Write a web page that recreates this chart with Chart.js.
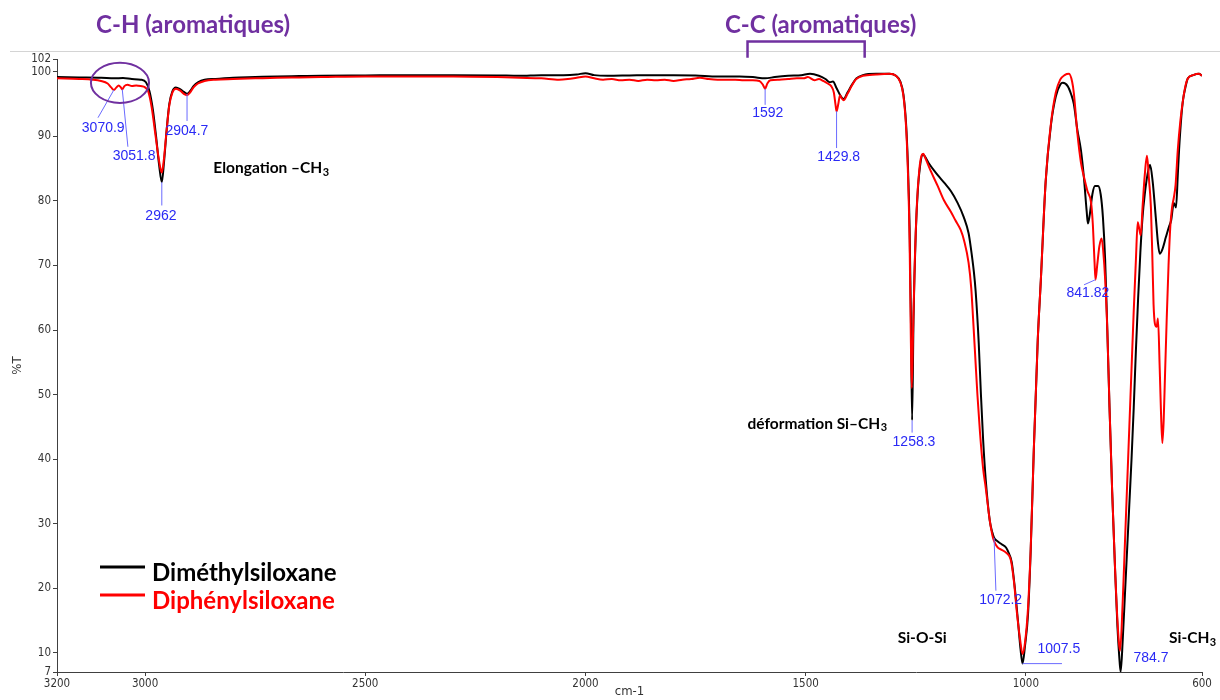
<!DOCTYPE html>
<html lang="fr">
<head>
<meta charset="utf-8">
<title>Spectres IR – siloxanes</title>
<script src="https://cdn.jsdelivr.net/npm/chart.js@4.4.1/dist/chart.umd.min.js"></script>
<style>
  html, body { margin: 0; padding: 0; background: #fff; }
  #wrap { width: 1220px; height: 700px; }
</style>
</head>
<body>
<div id="wrap"><canvas id="spectrum" width="1220" height="700"></canvas></div>
<script>
// IR spectra (%T vs wavenumber) of the two siloxanes, with the band assignments.

const wnTicks = [3200, 3000, 2500, 2000, 1500, 1000, 600];
const tTicks = [7, 10, 20, 30, 40, 50, 60, 70, 80, 90, 100, 102];

// [wavenumber cm-1, %T]
const dimethylPoints = [
  [3200, 99.2], [3150, 99.15], [3100, 99.1], [3070, 99.0], [3050, 99.05], [3030, 98.9], [3010, 98.8],
  [2998, 98.4], [2990, 97.0], [2982, 94.0], [2975, 90.0], [2968, 85.5], [2962, 82.9], [2957, 86.0],
  [2951, 91.0], [2945, 95.0], [2938, 97.0], [2930, 97.6], [2920, 97.3], [2912, 96.9], [2904.7, 96.6],
  [2898, 97.0], [2890, 97.8], [2880, 98.4], [2865, 98.8], [2840, 98.9], [2800, 99.1], [2750, 99.2],
  [2700, 99.3], [2650, 99.35], [2600, 99.4], [2500, 99.45], [2400, 99.5], [2300, 99.5], [2200, 99.45],
  [2150, 99.4], [2100, 99.5], [2050, 99.5], [2020, 99.6], [2000, 99.8], [1980, 99.5], [1950, 99.4],
  [1900, 99.45], [1850, 99.5], [1800, 99.5], [1750, 99.45], [1700, 99.3], [1650, 99.3], [1620, 99.2],
  [1592, 99.0], [1570, 99.2], [1540, 99.4], [1510, 99.5], [1490, 99.7], [1470, 99.4], [1455, 98.9],
  [1445, 98.4], [1438, 98.5], [1430, 97.5], [1420, 96.2], [1414, 95.8], [1405, 96.8], [1395, 98.0],
  [1385, 99.0], [1370, 99.5], [1340, 99.7], [1310, 99.7], [1295, 99.4], [1285, 98.5], [1278, 96.5],
  [1272, 92.0], [1268, 86.0], [1264, 76.0], [1261, 62.0], [1258.3, 46.0], [1255, 62.0], [1250, 75.0],
  [1245, 82.0], [1240, 85.5], [1235, 87.2], [1230, 87.0], [1220, 85.8], [1200, 84.0], [1185, 82.8],
  [1170, 81.5], [1155, 79.7], [1141, 77.5], [1130, 75.0], [1125, 72.8], [1118, 69.0], [1114, 66.0],
  [1107, 58.0], [1102, 50.0], [1097, 43.0], [1091, 36.7], [1082, 30.5], [1076, 28.6], [1072.2, 27.8],
  [1065, 27.3], [1055, 26.8], [1045, 26.3], [1038, 25.3], [1032, 24.0], [1025, 20.0], [1018, 15.0],
  [1012, 10.5], [1007.5, 8.3], [1002, 11.0], [995, 16.0], [989, 25.8], [982, 41.3], [973, 58.4],
  [966, 67.7], [955, 83.0], [943, 91.8], [932, 96.2], [922, 98.0], [916, 98.3], [905, 97.8],
  [897, 96.5], [891, 95.0], [883, 91.0], [875, 87.9], [868, 83.5], [862, 78.5], [859, 76.5],
  [855, 77.8], [849, 81.0], [843, 82.3], [836, 82.3], [830, 81.0], [825, 77.5], [820, 71.0],
  [815, 60.0], [810, 48.0], [804, 35.0], [798, 24.0], [792, 14.0], [788, 9.5], [784.7, 7.0],
  [780, 12.0], [775, 19.0], [770, 26.0], [765, 33.0], [760, 40.0], [755, 48.0], [750, 57.0],
  [745, 65.0], [740, 72.0], [735, 77.5], [730, 81.0], [724, 84.0], [718, 85.6], [712, 83.0],
  [705, 77.5], [700, 73.5], [696, 71.8], [690, 72.5], [682, 74.4], [675, 76.0], [670, 77.0],
  [664, 79.7], [659, 79.0], [655, 84.0], [652, 88.0], [647, 93.0], [643, 95.7], [637, 97.8],
  [632, 99.0], [620, 99.5], [607, 99.7], [600, 99.4]
];

const diphenylPoints = [
  [3200, 99.0], [3150, 98.9], [3120, 98.8], [3100, 98.6], [3085, 98.2], [3077, 97.6], [3070.9, 97.2],
  [3065, 97.6], [3060, 97.9], [3055, 97.6], [3051.8, 97.3], [3047, 97.8], [3040, 98.0], [3030, 97.8],
  [3020, 97.9], [3010, 97.8], [3000, 97.6], [2993, 97.0], [2985, 94.5], [2977, 90.5], [2970, 87.0],
  [2965, 85.0], [2962, 84.4], [2958, 86.0], [2951, 91.0], [2945, 94.8], [2938, 96.8], [2930, 97.4],
  [2920, 97.1], [2912, 96.6], [2904.7, 96.4], [2898, 96.8], [2890, 97.6], [2880, 98.2], [2865, 98.6],
  [2840, 98.8], [2800, 98.9], [2750, 99.0], [2700, 99.1], [2650, 99.15], [2600, 99.2], [2500, 99.3],
  [2400, 99.3], [2300, 99.3], [2200, 99.2], [2150, 99.1], [2100, 99.0], [2060, 98.8], [2040, 98.9],
  [2020, 99.1], [2000, 99.3], [1980, 99.0], [1960, 98.8], [1940, 98.9], [1920, 98.7], [1900, 98.8],
  [1880, 98.6], [1860, 98.8], [1840, 98.7], [1820, 98.8], [1800, 98.6], [1780, 98.8], [1760, 98.9],
  [1740, 99.1], [1720, 98.9], [1700, 98.8], [1680, 98.8], [1660, 98.8], [1640, 98.7], [1620, 98.7],
  [1605, 98.6], [1597, 98.0], [1592, 97.4], [1587, 98.2], [1580, 98.7], [1560, 98.8], [1540, 98.9],
  [1520, 99.0], [1505, 99.0], [1495, 99.2], [1480, 98.7], [1470, 98.9], [1460, 98.6], [1450, 98.2],
  [1442, 97.8], [1436, 96.8], [1432, 94.8], [1429.8, 93.9], [1426, 95.0], [1422, 96.4], [1419, 96.0],
  [1414, 95.6], [1405, 96.6], [1395, 97.9], [1385, 98.9], [1370, 99.4], [1340, 99.6], [1310, 99.7],
  [1295, 99.4], [1285, 98.4], [1278, 96.3], [1272, 91.5], [1268, 85.0], [1264, 74.0], [1261, 58.0],
  [1259, 51.0], [1256, 60.0], [1252, 71.0], [1247, 80.0], [1242, 84.8], [1237, 87.0], [1233, 87.3],
  [1228, 86.6], [1215, 84.5], [1200, 82.3], [1186, 80.1], [1170, 78.3], [1160, 77.0], [1148, 75.5],
  [1140, 73.8], [1130, 70.4], [1124, 66.5], [1120, 62.0], [1115, 56.0], [1110, 50.0], [1104, 44.0],
  [1097, 38.5], [1091, 35.5], [1082, 30.5], [1076, 28.2], [1072.2, 27.3], [1065, 26.4], [1057, 26.0],
  [1045, 25.5], [1034, 24.3], [1027, 21.0], [1020, 16.0], [1013, 12.0], [1007.5, 9.8], [1002, 11.5],
  [995, 17.0], [989, 26.0], [982, 41.3], [973, 58.4], [966, 67.7], [955, 83.0], [943, 92.0],
  [932, 96.8], [922, 98.8], [912, 99.5], [902, 99.7], [895, 98.5], [891, 96.7], [883, 90.5],
  [875, 86.0], [868, 83.7], [860, 81.5], [852, 79.8], [848, 76.5], [844, 70.5], [841.82, 67.8],
  [838, 70.0], [833, 73.0], [828, 74.2], [824, 72.0], [820, 68.0], [815, 60.0], [810, 48.0],
  [804, 35.0], [798, 24.0], [792, 15.0], [786, 10.3], [780, 18.0], [775, 27.0], [770, 36.0],
  [765, 45.0], [760, 54.0], [755, 63.0], [750, 71.0], [746, 76.7], [742, 75.5], [739, 74.7],
  [735, 79.0], [730, 84.0], [725, 87.0], [720, 83.0], [716, 79.0], [713, 72.0], [710, 64.0],
  [707, 61.0], [703, 60.5], [700, 61.8], [696, 54.0], [693, 47.0], [690, 42.5], [687, 46.0],
  [684, 53.0], [680, 62.0], [676, 70.0], [672, 76.0], [668, 79.0], [664, 80.5], [660, 82.5],
  [655, 87.9], [649, 92.5], [643, 95.7], [637, 98.0], [632, 99.0], [620, 99.5], [607, 99.7],
  [600, 99.4]
];

// Peak picks: the leader starts on the curve at the stated wavenumber.
// "at" is where the number is centred, "to" where the leader ends (data units).
const peakNotes = [
  { text: "3070.9", series: diphenylPoints, at: [3095, 91.3], to: [3107, 92.9] },
  { text: "3051.8", series: diphenylPoints, at: [3025, 87.0], to: [3039, 88.4] },
  { text: "2962", series: dimethylPoints, at: [2964, 77.7], to: [2962, 79.3] },
  { text: "2904.7", series: dimethylPoints, at: [2905, 90.8], to: [2904.7, 92.4] },
  { text: "1592", series: diphenylPoints, at: [1586, 93.6], to: [1592, 94.9] },
  { text: "1429.8", series: diphenylPoints, at: [1425, 86.8], to: [1429.8, 88.2] },
  { text: "1258.3", series: dimethylPoints, at: [1254, 42.7], to: [1258.3, 44.1] },
  { text: "1072.2", series: dimethylPoints, at: [1057, 18.2], to: [1068, 19.6] },
  { text: "1007.5", series: dimethylPoints, at: [925, 10.5], to: [918, 8.3] },
  { text: "841.82", series: diphenylPoints, at: [859, 65.7], to: [868, 67.0] },
  { text: "784.7", series: null, at: [716, 9.1], to: null }
];

// Band assignments, left-aligned at [wn, %T]; the second part is subscripted.
const bandNotes = [
  { parts: ["Elongation \u2013CH", "3"], at: [2845, 85.1] },
  { parts: ["déformation Si\u2013CH", "3"], at: [1632, 45.5] },
  { parts: ["Si-O-Si", ""], at: [1291, 12.3] },
  { parts: ["Si-CH", "3"], at: [675, 12.3] }
];

const groupNotes = [
  { text: "C-H (aromatiques)", at: [2891, 107.3] },
  { text: "C-C (aromatiques)", at: [1466, 107.3] }
];

const PURPLE = "#7030A0";
const BLUE = "#2A2AF5";
const TICK_FONT = "'Liberation Sans Narrow', 'DejaVu Sans Condensed', 'Liberation Sans', sans-serif";

function valueAt(points, wn) {
  const hit = points.find((p) => p[0] === wn);
  return hit ? hit[1] : null;
}

function drawRich(ctx, parts, x, y, size) {
  ctx.font = `bold ${size}px Lato, 'Open Sans', sans-serif`;
  ctx.textBaseline = "middle";
  ctx.textAlign = "left";
  ctx.fillText(parts[0], x, y);
  if (!parts[1]) return;
  const w = ctx.measureText(parts[0]).width;
  ctx.font = `bold ${Math.round(size * 0.68)}px Lato, 'Open Sans', sans-serif`;
  ctx.fillText(parts[1], x + w + 0.5, y + size * 0.28);
}

const spectrumNotes = {
  id: "spectrumNotes",
  beforeDraw(chart) {
    // thin grey rule across the top of the figure
    const { ctx } = chart;
    ctx.save();
    ctx.fillStyle = "#d4d4d4";
    ctx.fillRect(10, 51, chart.width - 10, 1);
    ctx.restore();
  },
  afterDatasetsDraw(chart) {
    const { ctx, chartArea, scales: { x, y } } = chart;
    const px = (wn) => x.getPixelForValue(wn);
    const py = (t) => y.getPixelForValue(t);
    ctx.save();

    // peak wavenumbers in blue, with their leaders
    ctx.font = "14px 'Liberation Sans', Arial, sans-serif";
    ctx.textAlign = "center";
    ctx.textBaseline = "middle";
    for (const note of peakNotes) {
      if (note.series) {
        const wn = Number(note.text);
        ctx.strokeStyle = "#6A6AFF";
        ctx.lineWidth = 1;
        ctx.beginPath();
        ctx.moveTo(px(wn), py(valueAt(note.series, wn)));
        ctx.lineTo(px(note.to[0]), py(note.to[1]));
        ctx.stroke();
      }
      ctx.fillStyle = BLUE;
      ctx.fillText(note.text, px(note.at[0]), py(note.at[1]));
    }

    // band assignments
    ctx.fillStyle = "#000";
    for (const band of bandNotes) {
      drawRich(ctx, band.parts, px(band.at[0]), py(band.at[1]), 15.5);
    }

    // aromatic groups in purple
    ctx.fillStyle = PURPLE;
    ctx.strokeStyle = PURPLE;
    ctx.font = "bold 24px Lato, 'Open Sans', sans-serif";
    ctx.textAlign = "center";
    for (const g of groupNotes) {
      ctx.fillText(g.text, px(g.at[0]), py(g.at[1]));
    }
    ctx.lineWidth = 2.5;
    ctx.beginPath();
    ctx.moveTo(px(1632), py(102.2));
    ctx.lineTo(px(1632), py(104.7));
    ctx.lineTo(px(1366), py(104.7));
    ctx.lineTo(px(1366), py(102.2));
    ctx.stroke();
    ctx.lineWidth = 2;
    ctx.beginPath();
    ctx.ellipse((px(3123) + px(2991)) / 2, (py(101.4) + py(95.2)) / 2,
      (px(2991) - px(3123)) / 2, (py(95.2) - py(101.4)) / 2, 0, 0, Math.PI * 2);
    ctx.stroke();

    // legend
    const rows = chart.data.datasets;
    rows.forEach((ds, i) => {
      const ly = chartArea.bottom - 105 + i * 28;
      ctx.strokeStyle = ds.borderColor;
      ctx.lineWidth = 3;
      ctx.beginPath();
      ctx.moveTo(chartArea.left + 43, ly);
      ctx.lineTo(chartArea.left + 88, ly);
      ctx.stroke();
      ctx.fillStyle = ds.borderColor;
      ctx.font = "bold 24px Lato, 'Open Sans', sans-serif";
      ctx.textAlign = "left";
      ctx.fillText(ds.label, chartArea.left + 95, ly + 6);
    });

    ctx.restore();
  }
};

new Chart(document.getElementById("spectrum"), {
  type: "line",
  data: {
    datasets: [
      {
        label: "Diméthylsiloxane",
        data: dimethylPoints.map(([wn, t]) => ({ x: wn, y: t })),
        borderColor: "#000000",
        borderWidth: 2,
        order: 1
      },
      {
        label: "Diphénylsiloxane",
        data: diphenylPoints.map(([wn, t]) => ({ x: wn, y: t })),
        borderColor: "#FF0000",
        borderWidth: 2,
        order: 0
      }
    ]
  },
  options: {
    responsive: false,
    animation: false,
    devicePixelRatio: 1,
    layout: { padding: { top: 59, right: 18, left: 0, bottom: 0 } },
    elements: {
      point: { radius: 0 },
      line: { cubicInterpolationMode: "monotone", fill: false }
    },
    plugins: { legend: { display: false }, tooltip: { enabled: false } },
    scales: {
      x: {
        type: "linear",
        reverse: true,
        min: 600,
        max: 3200,
        afterBuildTicks: (scale) => { scale.ticks = wnTicks.map((v) => ({ value: v })); },
        afterFit: (scale) => { scale.height = 28; },
        grid: { drawOnChartArea: false, drawTicks: true, tickLength: 4, color: "#404040" },
        border: { color: "#404040", width: 1 },
        ticks: {
          color: "#333", font: { family: TICK_FONT, size: 11.5 }, padding: 1, maxRotation: 0,
          callback: (v) => String(v)
        },
        title: { display: true, text: "cm-1", color: "#333", font: { family: TICK_FONT, size: 13 }, padding: { top: 0, bottom: 1 } }
      },
      y: {
        min: 7,
        max: 102,
        afterBuildTicks: (scale) => { scale.ticks = tTicks.map((v) => ({ value: v })); },
        afterFit: (scale) => { scale.width = 57; },
        grid: { drawOnChartArea: false, drawTicks: true, tickLength: 4, color: "#404040" },
        border: { color: "#404040", width: 1 },
        ticks: { color: "#333", font: { family: TICK_FONT, size: 11.5 }, padding: 2, callback: (v) => String(v) },
        title: { display: true, text: "%T", color: "#333", font: { family: TICK_FONT, size: 13 }, padding: { top: 10, bottom: 0 } }
      }
    }
  },
  plugins: [spectrumNotes]
});
</script>
</body>
</html>
